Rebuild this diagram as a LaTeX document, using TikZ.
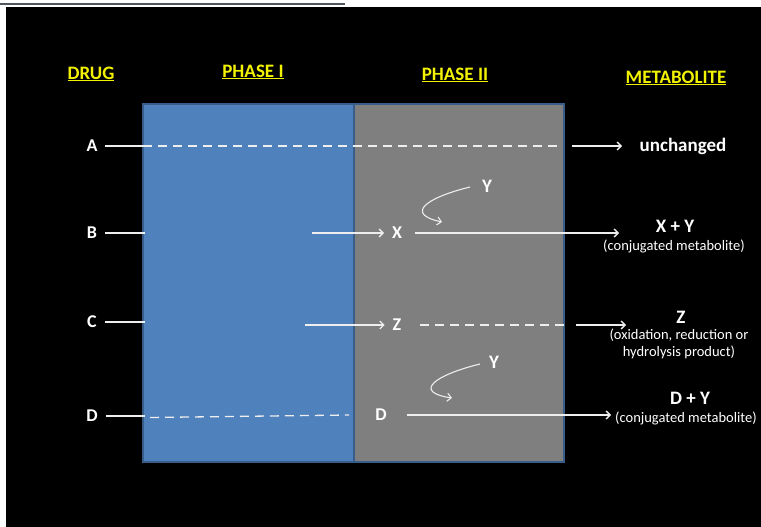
\documentclass[tikz,border=0pt]{standalone}
\usepackage{fontspec}
\setmainfont{Carlito}
\usetikzlibrary{arrows.meta}
\definecolor{bluebox}{HTML}{4F81BD}
\definecolor{graybox}{HTML}{7F7F7F}
\definecolor{boxedge}{HTML}{385D8A}
\definecolor{headyel}{HTML}{F2F200}
\definecolor{linew}{HTML}{EEEEEE}
\definecolor{topgray}{HTML}{50555E}
\begin{document}
\begin{tikzpicture}[x=1pt,y=-1pt,
  phasebox/.style={draw=boxedge,line width=1.3pt,minimum height=358pt,inner sep=0pt},
  heading/.style={text=headyel,font=\fontsize{19}{21}\selectfont\bfseries,inner sep=0pt},
  lab/.style={text=white,font=\fontsize{18}{20}\selectfont\bfseries,inner sep=1pt,outer sep=7pt},
  res/.style={text=white,font=\fontsize{19}{21}\selectfont\bfseries,inner sep=0pt},
  small/.style={text=white,font=\fontsize{14.5}{17}\selectfont,inner sep=0pt,align=center},
  wl/.style={draw=linew,line width=1.3pt},
  wa/.style={draw=linew,line width=1.3pt,-{Straight Barb[length=4pt,width=8pt]}},
  wd/.style={draw=linew,line width=1.3pt,dash pattern=on 9pt off 6pt}]
\useasboundingbox (0,0) rectangle (761,527);
\fill[white] (0,0) rectangle (761,527);
\fill[black] (6,7) rectangle (761,527);
\draw[topgray,line width=2pt] (0,4.5) -- (345,4.5);
% boxes
\node[phasebox,fill=bluebox,minimum width=211pt] (p1) at (248.5,283) {};
\node[phasebox,fill=graybox,minimum width=210pt] (p2) at (459,283) {};
% headings
\node[heading] (hdrug) at (91,74) {\underline{DRUG}};
\node[heading] (hp1) at (253,72) {\underline{PHASE I}};
\node[heading] (hp2) at (455,75) {\underline{PHASE II}};
\node[heading] (hmet) at (676,78) {\underline{METABOLITE}};
% drug labels
\node[lab] (A) at (92,146) {A};
\node[lab] (B) at (92,233) {B};
\node[lab] (C) at (92,322) {C};
\node[lab] (D) at (92,416) {D};
% phase II labels
\node[lab] (X) at (397,233) {X};
\node[lab] (Z) at (397,325) {Z};
\node[lab] (D2) at (381,415) {D};
\node[res] (Y1) at (487,186) {Y};
\node[res] (Y2) at (494,362) {Y};
% metabolites
\node[res] (unch) at (683,146) {unchanged};
\node[res] (XY) at (675,226) {X + Y};
\node[small] (XYs) at (674,246) {(conjugated metabolite)};
\node[res] (Zr) at (681,317) {Z};
\node[small] (Zs) at (679,344) {(oxidation, reduction or\\hydrolysis product)};
\node[res] (DY) at (690,398) {D + Y};
\node[small] (DYs) at (686,418) {(conjugated metabolite)};
% coordinates
\coordinate (Aedge) at (143,146);
\coordinate (Adash) at (561,146);
\coordinate (Aarr) at (572,146);
\coordinate (Aend) at (622,146);
\coordinate (Bedge) at (145,233);
\coordinate (Bmid) at (312,233);
\coordinate (Xend) at (619,233);
\coordinate (Cedge) at (145,322);
\coordinate (Cmid) at (305,325);
\coordinate (Zdash) at (566,325);
\coordinate (Zarr) at (576,325);
\coordinate (Zend) at (626,325);
\coordinate (Dedge) at (145,416);
\coordinate (Ddash1) at (150,417.5);
\coordinate (Ddash2) at (349,415);
\coordinate (Dend) at (611,415);
\coordinate (Y1a) at (470,187);
\coordinate (Y1b) at (442,222);
\coordinate (Y2a) at (480,364);
\coordinate (Y2b) at (452,398);
% A
\draw[wl] (A.east) -- (Aedge);
\draw[wd] (Aedge) -- (Adash);
\draw[wa] (Aarr) -- (Aend);
% B
\draw[wl] (B.east) -- (Bedge);
\draw[wa] (Bmid) -- (X.west);
\draw[wa,shorten <=5pt] (X.east) -- (Xend);
\draw[wa,line width=1.1pt] (Y1a) .. controls (425,198) and (405,214) .. (Y1b);
% C
\draw[wl] (C.east) -- (Cedge);
\draw[wa] (Cmid) -- (Z.west);
\draw[wd,shorten <=11pt] (Z.east) -- (Zdash);
\draw[wa] (Zarr) -- (Zend);
% D
\draw[wl] (D.east) -- (Dedge);
\draw[wd] (Ddash1) -- (Ddash2);
\draw[wa,shorten <=12pt] (D2.east) -- (Dend);
\draw[wa,line width=1.1pt] (Y2a) .. controls (435,375) and (412,392) .. (Y2b);
\end{tikzpicture}
\end{document}
